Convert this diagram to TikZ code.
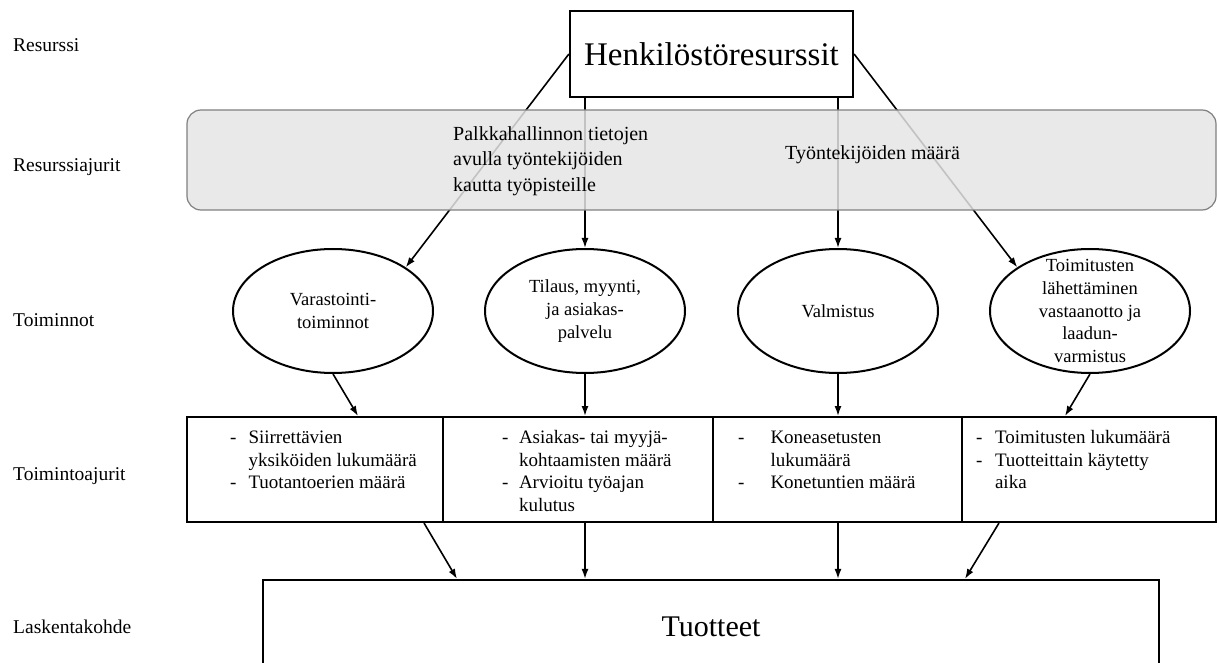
\documentclass[tikz,border=0pt]{standalone}
\usepackage{fontspec}
\setmainfont{Liberation Serif}
\usetikzlibrary{positioning,shapes.geometric,arrows.meta}
\newcommand\setfs[2]{\fontsize{#1}{#2}\selectfont}

\tikzset{
  lbl/.style={anchor=west, inner sep=0pt, font=\setfs{19.5}{23}},
  resbox/.style={draw, line width=2.2pt, minimum width=283pt, minimum height=86pt, inner sep=0pt, font=\setfs{33}{38}},
  rdrvarea/.style={draw=black!50, line width=1.2pt, fill=black!10, fill opacity=0.85, rounded corners=14pt, minimum width=1029pt, minimum height=100pt, inner sep=0pt},
  rdrvtext/.style={anchor=west, align=left, inner sep=0pt, font=\setfs{20}{25.5}},
  act/.style={draw, ellipse, line width=2pt, minimum width=200pt, minimum height=124pt, inner sep=0pt},
  acttext/.style={align=center, inner sep=0pt, font=\setfs{18.5}{22.7}},
  drvbox/.style={draw, line width=2pt, minimum height=105pt, inner sep=0pt},
  listtext/.style={anchor=north west, inner sep=0pt, font=\setfs{19}{22.5}},
  objbox/.style={draw, line width=2.2pt, minimum width=896pt, minimum height=94pt, inner sep=0pt, font=\setfs{30}{34}},
  arr/.style={-{Latex[length=10pt,width=7pt]}, line width=1.6pt},
}

\begin{document}
\begin{tikzpicture}[x=1pt,y=-1pt]
\useasboundingbox (0,0) rectangle (1219,663);
\clip (0,0) rectangle (1219,663);

% tasot
\foreach \y/\t [count=\i] in {45/Resurssi, 167/Resurssiajurit, 320/Toiminnot, 476/Toimintoajurit, 627/Laskentakohde}
  \node[lbl] (lbl\i) at (13,\y) {\t};

\node[resbox] (res) at (711.5,54) {Henkilöstöresurssit};

% toiminnot
\node[act, label={[acttext]center:{Varastointi-\\toiminnot}}] (e1) at (333,311) {};
\node[act, label={[acttext]center:{Tilaus, myynti,\\ja asiakas-\\palvelu}}] (e2) at (585,311) {};
\node[act, label={[acttext]center:{Valmistus}}] (e3) at (838,311) {};
\node[act, label={[acttext]center:{Toimitusten\\lähettäminen\\vastaanotto ja\\laadun-\\varmistus}}] (e4) at (1090,311) {};

% toimintoajurit
\node[drvbox, minimum width=256pt] (d1) at (315,469.5) {};
\node[drvbox, minimum width=270pt] (d2) at (578,469.5) {};
\node[drvbox, minimum width=249pt] (d3) at (837.5,469.5) {};
\node[drvbox, minimum width=254pt] (d4) at (1089,469.5) {};

\node[listtext, below right=12pt and 44pt of d1.north west] (l1) {%
  \begin{tabular}{@{}l@{\hspace{12pt}}l@{}}
  - & Siirrettävien\\
    & yksiköiden lukumäärä\\
  - & Tuotantoerien määrä
  \end{tabular}};
\node[listtext, below right=12pt and 60pt of d2.north west] (l2) {%
  \begin{tabular}{@{}l@{\hspace{10.5pt}}l@{}}
  - & Asiakas- tai myyjä-\\
    & kohtaamisten määrä\\
  - & Arvioitu työajan\\
    & kulutus
  \end{tabular}};
\node[listtext, below right=12pt and 26pt of d3.north west] (l3) {%
  \begin{tabular}{@{}l@{\hspace{26pt}}l@{}}
  - & Koneasetusten\\
    & lukumäärä\\
  - & Konetuntien määrä
  \end{tabular}};
\node[listtext, below right=12pt and 15pt of d4.north west] (l4) {%
  \begin{tabular}{@{}l@{\hspace{12.5pt}}l@{}}
  - & Toimitusten lukumäärä\\
  - & Tuotteittain käytetty\\
    & aika
  \end{tabular}};

\node[objbox] (tuo) at (711,627) {Tuotteet};

% resurssi -> toiminnot
\draw[arr] (res.west) -- (e1.31);
\draw[arr] (e2 |- res.south) -- (e2.north);
\draw[arr] (e3 |- res.south) -- (e3.north);
\draw[arr] (res.east) -- (e4.149);

% resurssiajurit
\node[rdrvarea] (rdrv) at (701.5,160) {};
\node[rdrvtext] (rdrv1) at (453,161) {Palkkahallinnon tietojen\\avulla työntekijöiden\\kautta työpisteille};
\node[rdrvtext] (rdrv2) at (785,155) {Työntekijöiden määrä};

% toiminnot -> ajurit
\draw[arr] (e1.south) -- ([xshift=43pt]d1.north);
\draw[arr] (e2.south) -- (e2.south |- d2.north);
\draw[arr] (e3.south) -- (e3.south |- d3.north);
\draw[arr] (e4.south) -- ([xshift=-24pt]d4.north);

% ajurit -> tuotteet
\draw[arr] ([xshift=109pt]d1.south) -- ([xshift=-254pt]tuo.north);
\draw[arr] (e2 |- d2.south) -- (e2 |- tuo.north);
\draw[arr] (e3 |- d3.south) -- (e3 |- tuo.north);
\draw[arr] ([xshift=-90pt]d4.south) -- ([xshift=254pt]tuo.north);

\end{tikzpicture}
\end{document}
